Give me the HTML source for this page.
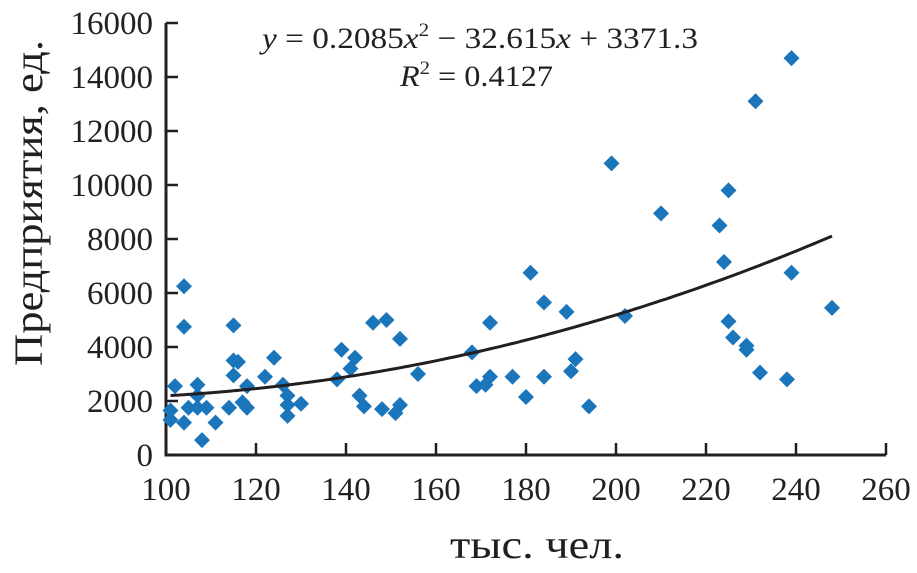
<!DOCTYPE html>
<html><head><meta charset="utf-8"><style>
body{margin:0;background:#fff}
svg text{font-family:"Liberation Serif",serif;fill:#231f20}
</style></head><body>
<svg width="917" height="568" id="c">
<text x="262" y="48" font-size="30" textLength="436" lengthAdjust="spacingAndGlyphs"><tspan font-style="italic">y</tspan> = 0.2085<tspan font-style="italic">x</tspan><tspan font-size="19" dy="-12">2</tspan><tspan dy="12"> − 32.615</tspan><tspan font-style="italic">x</tspan> + 3371.3</text>
<text x="400" y="86" font-size="30" textLength="153" lengthAdjust="spacingAndGlyphs"><tspan font-style="italic">R</tspan><tspan font-size="19" dy="-12">2</tspan><tspan dy="12"> = 0.4127</tspan></text>
<text transform="translate(42,203) rotate(-90)" text-anchor="middle" font-size="40" textLength="326" lengthAdjust="spacingAndGlyphs">Предприятия, ед.</text>
<text x="537" y="558" text-anchor="middle" font-size="40" textLength="174" lengthAdjust="spacingAndGlyphs">тыс. чел.</text>
</svg>
<script>
const xs=[101,101,102,104,104,104,105,107,107,107,108,109,111,114,115,115,115,116,117,118,118,122,124,126,127,127,127,130,138,139,141,142,143,144,146,148,149,151,152,152,156,168,169,171,172,172,177,180,181,184,184,189,190,191,194,199,202,210,223,224,225,225,226,229,229,231,232,238,239,239,248];
const ys=[1300,1650,2550,6250,4750,1200,1750,2600,2200,1750,550,1750,1200,1750,4800,3500,2950,3450,1950,1750,2550,2900,3600,2600,2200,1850,1450,1900,2800,3900,3200,3600,2200,1800,4900,1700,5000,1550,1850,4300,3000,3800,2550,2600,4900,2900,2900,2150,6750,2900,5650,5300,3100,3550,1800,10800,5150,8950,8500,7150,9800,4950,4350,4050,3900,13100,3050,2800,14700,6750,5450];
const xTicks=[100,120,140,160,180,200,220,240,260];
const yTicks=[0,2000,4000,6000,8000,10000,12000,14000,16000];
const coef=[0.2085,-32.615,3371.3];
const ns="http://www.w3.org/2000/svg",svg=document.getElementById('c');
const X=v=>166+(v-100)*4.5, Y=v=>455-v*0.027;
function mk(t,a){const e=document.createElementNS(ns,t);for(const k in a)e.setAttribute(k,a[k]);svg.appendChild(e);return e;}
let ax=mk('path',{d:`M${X(100)},${Y(16000)}V${Y(0)}H${X(260)}`,stroke:'#231f20','stroke-width':3,fill:'none'});


xTicks.forEach(t=>{const l=mk('line',{x1:X(t),x2:X(t),y1:Y(0),y2:Y(0)-12,stroke:'#231f20','stroke-width':2.5});


const tx=mk('text',{x:X(t),y:500,'text-anchor':'middle','font-size':33});tx.textContent=t;

});
yTicks.forEach(t=>{const l=mk('line',{x1:X(100),x2:X(100)+12,y1:Y(t),y2:Y(t),stroke:'#231f20','stroke-width':2.5});


const tx=mk('text',{x:153,y:Y(t)+11,'text-anchor':'end','font-size':33});tx.textContent=t;

});
xs.forEach((x,i)=>{const cx=X(x),cy=Y(ys[i]);const p=mk('path',{d:`M${cx},${cy-8}L${cx+8},${cy}L${cx},${cy+8}L${cx-8},${cy}Z`,fill:'#1b75bb'});

});
let d='';for(let x=101;x<=248;x+=1){const y=coef[0]*x*x+coef[1]*x+coef[2];d+=(d?'L':'M')+X(x).toFixed(1)+','+Y(y).toFixed(1);}
const tr=mk('path',{d:d,stroke:'#231f20','stroke-width':3,fill:'none'});


</script>
</body></html>
